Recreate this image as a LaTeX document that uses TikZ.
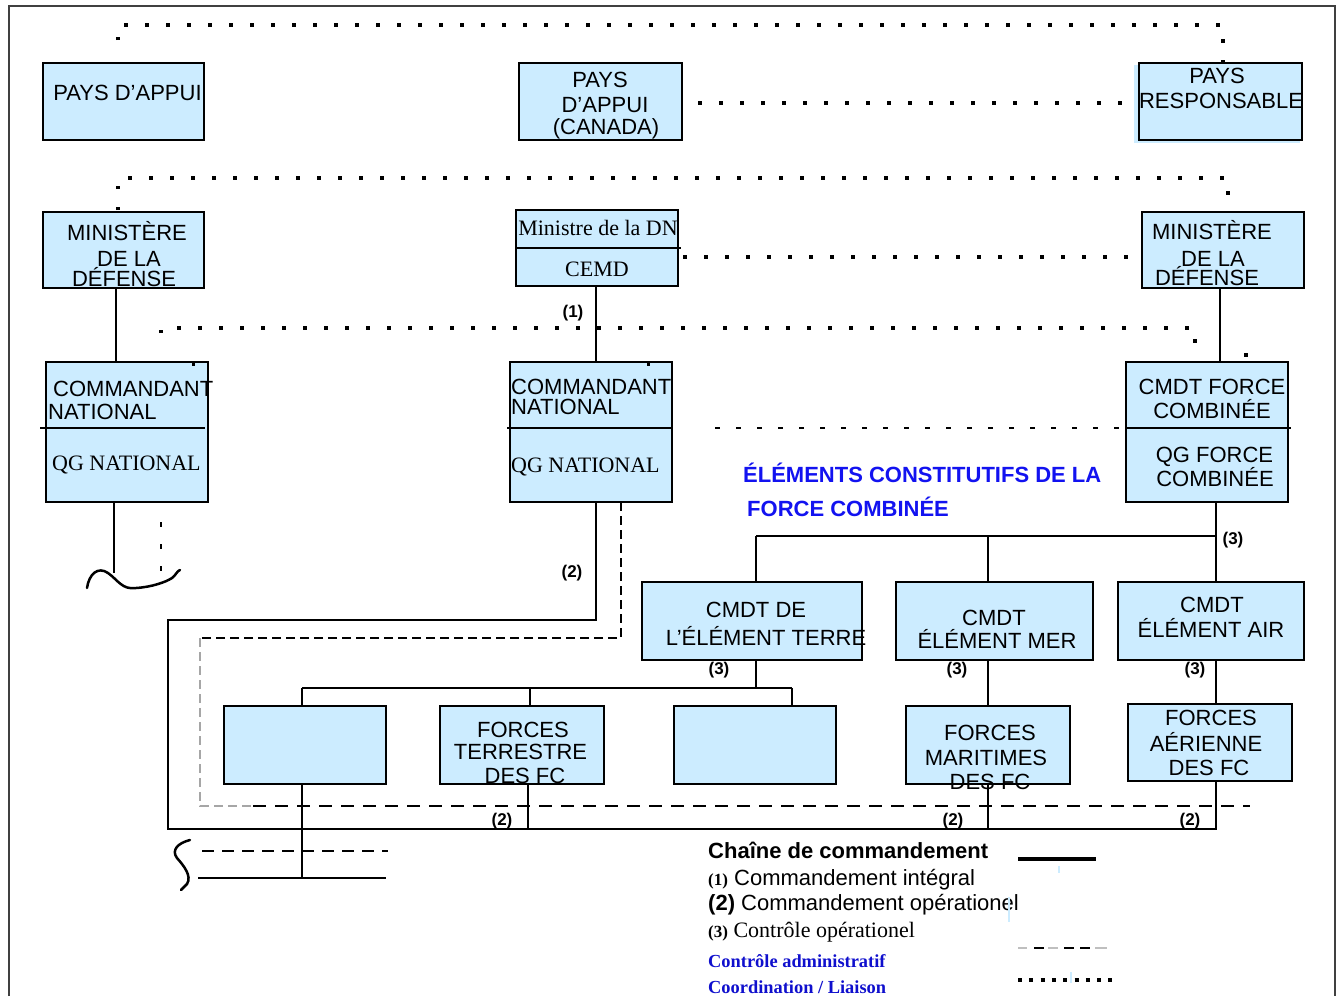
\documentclass[tikz,border=0pt]{standalone}
\usepackage{fontspec}
\setmainfont{Liberation Serif}
\newfontfamily\arialf{Liberation Sans}
\usetikzlibrary{calc}
\definecolor{boxblue}{RGB}{204,236,255}
\definecolor{titleblue}{RGB}{18,18,240}
\definecolor{legblue}{RGB}{15,15,205}

% box from its corners: name, x1, y1, x2, y2
\newcommand\drawbox[5]{\node[box, minimum width={#4-#2}, minimum height={#5-#3}] (#1) at ({(#2+#4)/2},{(#3+#5)/2}) {};}

\begin{document}
\begin{tikzpicture}[x=1pt,y=-1pt,
  box/.style={draw, fill=boxblue, line width=2, inner sep=0, outer sep=0},
  sans/.style={inner sep=0, anchor=base, font=\arialf\fontsize{22}{26}\selectfont},
  serifx/.style={inner sep=0, anchor=base, font=\fontsize{22}{26}\selectfont},
  lbl/.style={inner sep=0, font=\arialf\bfseries\fontsize{17}{17}\selectfont},
  chain/.style={line width=2},
  admin/.style={line width=2, dash pattern=on 9 off 5},
  ctrl/.style={line width=2, dash pattern=on 5 off 16},
  coord/.style={line width=3.5, dash pattern=on 3.5 off 17.5},
  divider/.style={line width=2}]
\useasboundingbox (0,0) rectangle (1341,996);

% outer frame
\draw[black!75, line width=2.5] (9,996) -- (9,6) -- (1335,6) -- (1335,996);

% ---------- boxes ----------
\fill[boxblue] (1134,65) rectangle (1300,143);
\drawbox{paysA}{43}{63}{204}{140}
\drawbox{paysC}{519}{63}{682}{140}
\drawbox{paysR}{1139}{63}{1302}{140}
\drawbox{minL}{43}{212}{204}{288}
\drawbox{mdn}{516}{210}{678}{286}
\drawbox{minR}{1142}{212}{1304}{288}
\drawbox{cnL}{46}{362}{208}{502}
\drawbox{cnM}{510}{362}{672}{502}
\drawbox{cfc}{1126}{362}{1288}{502}
\drawbox{terre}{642}{582}{862}{660}
\drawbox{mer}{896}{582}{1093}{660}
\drawbox{air}{1118}{582}{1304}{660}
\drawbox{b1}{224}{706}{386}{784}
\drawbox{ft}{440}{706}{604}{784}
\drawbox{b3}{674}{706}{836}{784}
\drawbox{fm}{906}{706}{1070}{784}
\drawbox{fa}{1128}{704}{1292}{781}

% dividers inside split boxes
\draw[divider] (516,248) -- (681,248);
\draw[divider] (40,428) -- (205,428);
\draw[divider] (507,428) -- (672,428);
\draw[divider] (1126,428) -- (1291,428);

% ---------- chain of command ----------
\coordinate (xL) at (116,0);
\coordinate (xM) at (596,0);
\coordinate (xR) at (1220,0);
\draw[chain] (minL.south -| xL) -- (cnL.north -| xL);
\draw[chain] (mdn.south -| xM) -- (cnM.north -| xM);
\draw[chain] (minR.south -| xR) -- (cfc.north -| xR);

\coordinate (sqEnd) at (114,573);
\draw[chain] (cnL.south -| sqEnd) -- (sqEnd);

\coordinate (oc1) at (596,620);
\coordinate (oc2) at (168,620);
\coordinate (oc3) at (168,829);
\coordinate (oc4) at (1216,829);
\draw[chain] (cnM.south -| oc1) -- (oc1) -- (oc2) -- (oc3) -- (oc4) -- (fa.south -| oc4);
\coordinate (xFT) at (528,829);
\coordinate (xFM) at (988,829);
\draw[chain] (ft.south -| xFT) -- (xFT);
\draw[chain] (fm.south -| xFM) -- (xFM);

\coordinate (xB1) at (302,878);
\draw[chain] (b1.south -| xB1) -- (xB1);
\coordinate (bs1) at (198,878);
\coordinate (bs2) at (386,878);
\draw[chain] (bs1) -- (bs2);
\coordinate (bd1) at (202,851);
\coordinate (bd2) at (388,851);
\draw[line width=2, dash pattern=on 12 off 8] (bd1) -- (bd2);

\coordinate (xCF) at (1216,536);
\coordinate (xT) at (756,536);
\coordinate (xMr) at (988,536);
\draw[chain] (cfc.south -| xCF) -- (air.north -| xCF);
\draw[chain] (xT) -- (xCF);
\draw[chain] (xT) -- (terre.north -| xT);
\draw[chain] (xMr) -- (mer.north -| xMr);

\coordinate (yT) at (756,688);
\coordinate (hL) at (302,688);
\coordinate (hF) at (530,688);
\coordinate (hR) at (792,688);
\draw[chain] (terre.south -| yT) -- (yT);
\draw[chain] (hL) -- (hR);
\draw[chain] (hL) -- (b1.north -| hL);
\draw[chain] (hF) -- (ft.north -| hF);
\draw[chain] (hR) -- (b3.north -| hR);
\draw[chain] (mer.south -| xMr) -- (fm.north -| xMr);
\draw[chain] (air.south -| xCF) -- (fa.north -| xCF);

% ---------- administrative control ----------
\coordinate (a1) at (621,638);
\coordinate (a2) at (200,638);
\coordinate (a3) at (200,806);
\coordinate (a3b) at (253,806);
\coordinate (a4) at (1250,806);
\draw[admin] (cnM.south -| a1) -- (a1) -- (a2);
\draw[black!35, line width=1.5, dash pattern=on 9 off 5] (a2) -- (a3) -- (a3b);
\draw[line width=2, dash pattern=on 13 off 9] (a3b) -- (a4);

\coordinate (dd) at (715,428);
\draw[ctrl] (dd) -- (cfc.west |- dd);

% ---------- coordination / liaison ----------
\coordinate (k1) at (118,40);
\coordinate (k2) at (118,25);
\coordinate (k3) at (1223,25);
\draw[coord] (k1) -- (k2) -- (k3) -- (paysR.north -| k3);
\coordinate (kc) at (698,103);
\draw[coord] (kc) -- ($(paysR.west |- kc)+(-17,0)$);
\coordinate (m1) at (118,210);
\coordinate (m2) at (118,178);
\coordinate (m3) at (1228,178);
\draw[coord] (m1) -- (m2) -- (m3) -- (minR.north -| m3);
\coordinate (n1) at (683,257);
\draw[coord] (n1) -- ($(minR.west |- n1)+(-10,0)$);
\coordinate (p1) at (161,333);
\coordinate (p2) at (161,328);
\coordinate (p3) at (1195,328);
\coordinate (p4) at (1195,350);
\draw[coord] (p1) -- (p2) -- (p3) -- (p4);
\coordinate (q1) at (161,522);
\coordinate (q2) at (161,574);
\draw[line width=2.2, dash pattern=on 5 off 17] (q1) -- (q2);
\fill (1244,353) rectangle (1248,357);
\fill (192,362) rectangle (195,366);
\fill (647,362) rectangle (650,366);

% hand-drawn strokes
\draw[line width=2.5, line cap=round] (87,588) .. controls (89,574) and (98,566) .. (108,573)
  .. controls (118,580) and (122,590) .. (136,588)
  .. controls (152,587) and (166,582) .. (172,578)
  .. controls (176,575) and (177,571) .. (180,570);
\draw[line width=2.5, line cap=round] (190,840) .. controls (178,843) and (171,850) .. (177,858)
  .. controls (184,866) and (192,876) .. (187,884) -- (181,890);

% ---------- box texts ----------
\node[sans] (tPA) at (127.5,100) {PAYS D’APPUI};
\node[sans] (tPC1) at (600,87.5) {PAYS};
\node[sans] (tPC2) at (605,112) {D’APPUI};
\node[sans] (tPC3) at (606,134) {(CANADA)};
\node[sans] (tPR1) at (1217,83) {PAYS};
\node[sans] (tPR2) at (1221,108) {RESPONSABLE};
\node[sans] (tML1) at (127,240) {MINISTÈRE};
\node[sans] (tML2) at (129,266) {DE LA};
\node[sans] (tML3) at (124,286) {DÉFENSE};
\node[sans] (tMR1) at (1212,239) {MINISTÈRE};
\node[sans] (tMR2) at (1213,266) {DE LA};
\node[sans] (tMR3) at (1207,285) {DÉFENSE};
\node[serifx] (tDN) at (598,235) {Ministre de la DN};
\node[serifx] (tCEMD) at (597,276) {CEMD};
\node[sans, anchor=base west] (tCL1) at (53,396) {COMMANDANT};
\node[sans, anchor=base west] (tCL2) at (48,419) {NATIONAL};
\node[serifx, anchor=base west] (tCL3) at (52,470) {QG NATIONAL};
\node[sans, anchor=base west] (tCM1) at (511,394) {COMMANDANT};
\node[sans, anchor=base west] (tCM2) at (511,414) {NATIONAL};
\node[serifx, anchor=base west] (tCM3) at (511,472) {QG NATIONAL};
\node[sans] (tCF1) at (1212,394) {CMDT FORCE};
\node[sans] (tCF2) at (1212,418) {COMBINÉE};
\node[sans] (tCF3) at (1214.5,462) {QG FORCE};
\node[sans] (tCF4) at (1215,486) {COMBINÉE};
\node[sans] (tT1) at (756,617) {CMDT DE};
\node[sans] (tT2) at (766,645) {L’ÉLÉMENT TERRE};
\node[sans] (tM1) at (994,625) {CMDT};
\node[sans] (tM2) at (997,648) {ÉLÉMENT MER};
\node[sans] (tA1) at (1212,612) {CMDT};
\node[sans] (tA2) at (1211,637) {ÉLÉMENT AIR};
\node[sans] (tFT1) at (523,737) {FORCES};
\node[sans] (tFT2) at (520.5,759) {TERRESTRE};
\node[sans] (tFT3) at (525,783) {DES FC};
\node[sans] (tFM1) at (990,740) {FORCES};
\node[sans] (tFM2) at (986,765) {MARITIMES};
\node[sans] (tFM3) at (990,789) {DES FC};
\node[sans] (tFA1) at (1211,725) {FORCES};
\node[sans] (tFA2) at (1206,751) {AÉRIENNE};
\node[sans] (tFA3) at (1209,775) {DES FC};

% title of the combined force elements
\node[sans, anchor=base west, text=titleblue, font=\arialf\bfseries\fontsize{22}{26}\selectfont] (ttl1) at (743,482) {ÉLÉMENTS CONSTITUTIFS DE LA};
\node[sans, anchor=base west, text=titleblue, font=\arialf\bfseries\fontsize{22}{26}\selectfont] (ttl2) at (747,516) {FORCE COMBINÉE};

% ---------- relationship labels ----------
\node[lbl] (l1) at (573,313) {(1)};
\node[lbl] (l2a) at (572,573) {(2)};
\node[lbl] (l3a) at (1233,540) {(3)};
\node[lbl] (l3b) at (719,670) {(3)};
\node[lbl] (l3c) at (957,670) {(3)};
\node[lbl] (l3d) at (1195,670) {(3)};
\node[lbl] (l2b) at (502,821) {(2)};
\node[lbl] (l2c) at (953,821) {(2)};
\node[lbl] (l2d) at (1190,821) {(2)};

% ---------- legend ----------
\node[sans, anchor=base west, font=\arialf\bfseries\fontsize{22}{26}\selectfont] (lg0) at (708,858) {Chaîne de commandement};
\node[sans, anchor=base west] (lg1) at (708,885) {{\rmfamily\bfseries\fontsize{17}{17}\selectfont(1)} Commandement intégral};
\node[sans, anchor=base west] (lg2) at (708,910) {{\bfseries(2)} Commandement opérationel};
\node[serifx, anchor=base west] (lg3) at (708,937) {{\bfseries\fontsize{17}{17}\selectfont(3)} Contrôle opérationel};
\node[serifx, anchor=base west, text=legblue, font=\bfseries\fontsize{18.4}{22}\selectfont] (lg4) at (708,967) {Contrôle administratif};
\node[serifx, anchor=base west, text=legblue, font=\bfseries\fontsize{18.4}{22}\selectfont] (lg5) at (708,993) {Coordination / Liaison};

\coordinate (ls1) at (1018,859);
\coordinate (ls2) at (1096,859);
\draw[line width=4] (ls1) -- (ls2);
\draw[black!25, line width=1.5] (1018,948) -- (1027,948) (1048,948) -- (1058,948) (1095,948) -- (1107,948);
\draw[line width=1.5] (1034,948) -- (1044,948) (1064,948) -- (1074,948) (1080,948) -- (1090,948);
\coordinate (ld1) at (1018,980);
\coordinate (ld2) at (1113,980);
\draw[line width=4, dash pattern=on 4 off 7.3] (ld1) -- (ld2);

% small pale marks
\draw[boxblue, line width=1.5] (1059,866) -- (1059,873);
\draw[boxblue, line width=1.5] (1009,897) -- (1009,922);
\draw[boxblue, line width=1.5] (1071,972) -- (1071,983);
\end{tikzpicture}
\end{document}
